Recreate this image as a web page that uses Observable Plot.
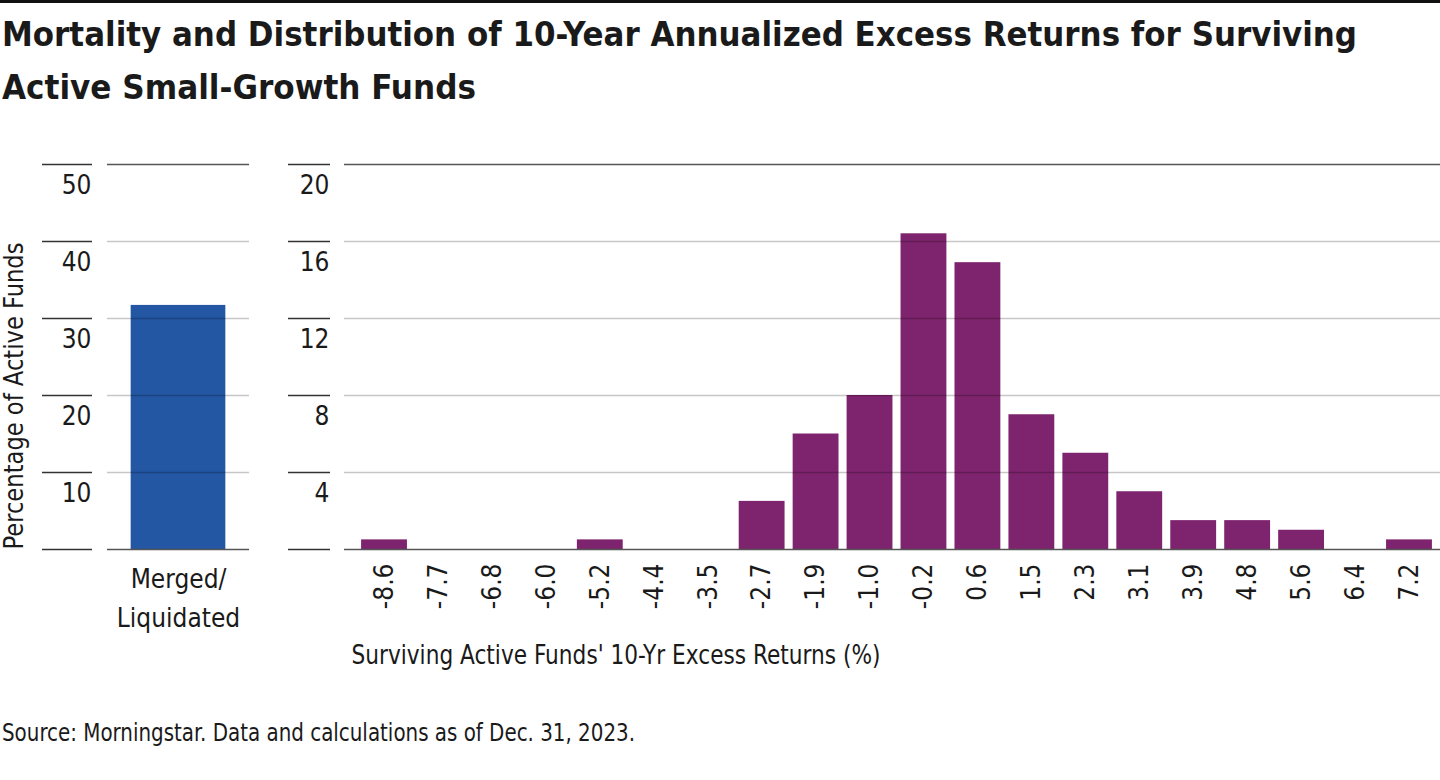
<!DOCTYPE html>
<html>
<head>
<meta charset="utf-8">
<script src="https://cdn.jsdelivr.net/npm/d3@7"></script>
<script src="https://cdn.jsdelivr.net/npm/@observablehq/plot@0.6"></script>
<style>
  html, body { margin: 0; padding: 0; background: #fff; }
  body { width: 1440px; height: 780px; position: relative; overflow: hidden;
         font-family: "Liberation Sans Narrow", "DejaVu Sans Condensed", sans-serif; color: #1a1a1a; }
  #topline { position: absolute; left: 0; top: 0; width: 1440px; height: 3px; background: #111; }
  .tline { position: absolute; left: 2px; font-size: 34px; line-height: 53px; font-weight: bold; color: #1a1a1a;
           white-space: nowrap; transform-origin: 0 50%; }
  #left { position: absolute; left: 0; top: 140px; }
  #right { position: absolute; left: 260px; top: 140px; }
  #source { position: absolute; left: 2px; top: 719px; font-size: 24px; color: #1a1a1a; white-space: nowrap; transform-origin: 0 50%; }
</style>
</head>
<body>
<div id="topline"></div>
<div class="tline" id="t1" style="top:8px">Mortality and Distribution of 10-Year Annualized Excess Returns for Surviving</div>
<div class="tline" id="t2" style="top:61px">Active Small-Growth Funds</div>
<div id="left"></div>
<div id="right"></div>
<div id="source">Source: Morningstar. Data and calculations as of Dec. 31, 2023.</div>
<script>
const mortalityCategories = ["Merged/Liquidated"];
const mortalityValues = [31.7];
const mortalityTickLabels = ["Merged/\nLiquidated"];

const returnBins = ["-8.6","-7.7","-6.8","-6.0","-5.2","-4.4","-3.5","-2.7","-1.9","-1.0","-0.2","0.6","1.5","2.3","3.1","3.9","4.8","5.6","6.4","7.2"];
const returnShares = [0.5,0,0,0,0.5,0,0,2.5,6.0,8.0,16.4,14.9,7.0,5.0,3.0,1.5,1.5,1.0,0,0.5];

const leftTicks = [0,10,20,30,40,50];
const rightTicks = [0,4,8,12,16,20];

const yAxisTitle = "Percentage of Active Funds";
const xAxisTitle = "Surviving Active Funds' 10-Yr Excess Returns (%)";

const FONT = '"Liberation Sans Narrow", "DejaVu Sans Condensed", sans-serif';
const mortality = mortalityCategories.map((c, i) => ({category: c, value: mortalityValues[i]}));
const returns = returnBins.map((b, i) => ({bin: b, value: returnShares[i]}));

const gridStroke = {stroke: "#000", strokeOpacity: 0.22, strokeWidth: 1.3};
const edgeStroke = {stroke: "#555", strokeWidth: 1.6};

const left = Plot.plot({
  width: 260, height: 540,
  marginTop: 24, marginBottom: 131, marginLeft: 92, marginRight: 11,
  style: {fontFamily: FONT, fontSize: "26px", color: "#1a1a1a", background: "transparent", overflow: "visible"},
  x: {domain: mortalityCategories, padding: 0.2, insetLeft: 15, round: false, label: null},
  y: {domain: [0, 50], label: null},
  marks: [
    Plot.barY(mortality, {x: "category", y: "value", fill: "#2356a3"}),
    Plot.ruleY(leftTicks.slice(1, -1), {insetLeft: 15, ...gridStroke}),
    Plot.ruleY([leftTicks[leftTicks.length - 1]], {insetLeft: 15, ...edgeStroke}),
    Plot.ruleY([0], {insetLeft: 15, ...edgeStroke}),
    Plot.axisY(leftTicks, {tickSize: 50, tickFormat: () => "", stroke: "#333", strokeWidth: 1.6}),
    Plot.axisY(leftTicks, {tickSize: 0, tickPadding: 1, dy: 21, fontSize: 26, tickFormat: d => d === 0 ? "" : String(d)}),
    Plot.axisX({tickSize: 0, tickPadding: 11, fontSize: 26, lineHeight: 1.5, tickFormat: (d, i) => mortalityTickLabels[i]}),
    Plot.text([yAxisTitle], {frameAnchor: "bottom-left", rotate: -90, textAnchor: "start", lineAnchor: "middle", dx: -78, fontSize: 26})
  ]
});
document.getElementById("left").appendChild(left);

const right = Plot.plot({
  width: 1180, height: 540,
  marginTop: 24, marginBottom: 131, marginLeft: 70, marginRight: 0,
  style: {fontFamily: FONT, fontSize: "26px", color: "#1a1a1a", background: "transparent", overflow: "visible"},
  x: {domain: returnBins, padding: 0.15, insetLeft: 23, round: false, label: null},
  y: {domain: [0, 20], label: null},
  marks: [
    Plot.barY(returns, {x: "bin", y: "value", fill: "#7e246e"}),
    Plot.ruleY(rightTicks.slice(1, -1), {insetLeft: 14, ...gridStroke}),
    Plot.ruleY([rightTicks[rightTicks.length - 1]], {insetLeft: 14, ...edgeStroke}),
    Plot.ruleY([0], {insetLeft: 14, ...edgeStroke}),
    Plot.axisY(rightTicks, {tickSize: 42, tickFormat: () => "", stroke: "#333", strokeWidth: 1.6}),
    Plot.axisY(rightTicks, {tickSize: 0, tickPadding: 1, dy: 21, fontSize: 26, tickFormat: d => d === 0 ? "" : String(d)}),
    Plot.axisX({tickSize: 0, tickPadding: 14, tickRotate: -90, fontSize: 26}),
    Plot.text([xAxisTitle], {frameAnchor: "bottom-left", textAnchor: "start", lineAnchor: "middle", dx: 21, dy: 106, fontSize: 26})
  ]
});
document.getElementById("right").appendChild(right);

// fit text runs to the widths measured on the reference
function fitHtml(id, target) {
  const el = document.getElementById(id);
  const w = el.getBoundingClientRect().width;
  if (w > 0) el.style.transform = `scaleX(${target / w})`;
}
fitHtml("t1", 1355);
fitHtml("t2", 474);
fitHtml("source", 633);

function fitSvgText(svg, content, target) {
  svg.querySelectorAll("text").forEach(t => {
    if (t.textContent === content) {
      t.setAttribute("textLength", target);
      t.setAttribute("lengthAdjust", "spacingAndGlyphs");
    }
  });
}
fitSvgText(left, yAxisTitle, 307);
fitSvgText(right, xAxisTitle, 529);
</script>
</body>
</html>
